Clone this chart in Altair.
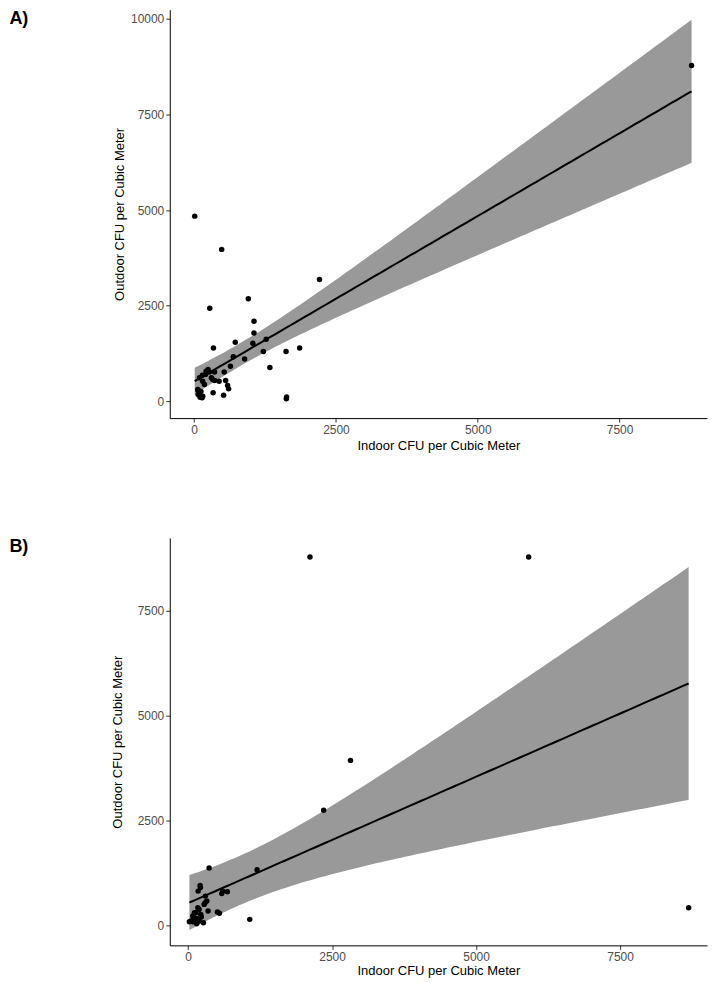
import altair as alt
import pandas as pd
import numpy as np

# ---------------- data ----------------
a_indoor = [10, 485, 2210, 955, 275, 1055, 1055, 1270, 725, 1035, 1860, 340, 1620, 1220, 690,
            890, 640, 1335, 530, 360, 245, 145, 304, 362, 555, 590, 608, 70, 70, 140,
            334, 520, 1630, 1625, 8770, 211, 93, 327, 181, 63, 151, 105, 200, 150, 270, 440, 120]
a_outdoor = [4840, 3970, 3180, 2680, 2430, 2090, 1780, 1620, 1540, 1515, 1390, 1390, 1300, 1300, 1160,
             1105, 915, 880, 760, 760, 830, 680, 610, 541, 541, 410, 321, 287, 175, 87,
             217, 157, 110, 60, 8780, 784, 609, 567, 436, 305, 130, 104, 700, 520, 760, 522, 250]

b_indoor = [2117, 5913, 8690, 2820, 2354, 1198, 366, 1071, 210, 175, 215, 302, 326, 279, 603,
            683, 586, 348, 510, 545, 192, 135, 221, 106, 49, 24, 83, 192, 267, 163,
            140, 170, 296, 111, 83, 230, 150]
b_outdoor = [8777, 8777, 421, 3930, 2743, 1325, 1365, 143, 951, 816, 900, 697, 578, 500, 816,
             801, 761, 340, 316, 290, 380, 302, 262, 183, 102, 88, 88, 102, 64, 159,
             120, 421, 540, 302, 221, 200, 40]

x_ticks = [0, 2500, 5000, 7500]
a_y_ticks = [0, 2500, 5000, 7500, 10000]
b_y_ticks = [0, 2500, 5000, 7500]
panel_labels = ["A)", "B)"]
x_title = "Indoor CFU per Cubic Meter"
y_title = "Outdoor CFU per Cubic Meter"


def t975(df):
    z = 1.959964
    return (z + (z**3 + z) / (4 * df) + (5 * z**5 + 16 * z**3 + 3 * z) / (96 * df**2)
            + (3 * z**7 + 19 * z**5 + 17 * z**3 - 15 * z) / (384 * df**3))


def lm_band(xs, ys, n=100):
    x = np.asarray(xs, float)
    y = np.asarray(ys, float)
    m = len(x)
    b1, b0 = np.polyfit(x, y, 1)
    resid = y - (b0 + b1 * x)
    s = np.sqrt((resid ** 2).sum() / (m - 2))
    sxx = ((x - x.mean()) ** 2).sum()
    grid = np.linspace(x.min(), x.max(), n)
    fit = b0 + b1 * grid
    se = s * np.sqrt(1.0 / m + (grid - x.mean()) ** 2 / sxx)
    t = t975(m - 2)
    return pd.DataFrame({"x": grid, "fit": fit, "lo": fit - t * se, "hi": fit + t * se})


def panel(xs, ys, label, xdom, ydom, yticks, w, h, x_tpad, y_tpad):
    pts = pd.DataFrame({"x": xs, "y": ys})
    band = lm_band(xs, ys)
    xsc = alt.Scale(domain=xdom, nice=False, zero=False)
    ysc = alt.Scale(domain=ydom, nice=False, zero=False)
    xax = alt.Axis(values=x_ticks, title=x_title, format="d", titlePadding=x_tpad)
    yax = alt.Axis(values=yticks, title=y_title, format="d", titlePadding=y_tpad)
    area = alt.Chart(band).mark_area(color="#999999", opacity=1).encode(
        x=alt.X("x:Q", scale=xsc, axis=xax),
        y=alt.Y("lo:Q", scale=ysc, axis=yax),
        y2="hi:Q",
    )
    line = alt.Chart(band).mark_line(color="black", strokeWidth=2).encode(
        x="x:Q", y="fit:Q"
    )
    points = alt.Chart(pts).mark_circle(color="black", size=30, opacity=1).encode(
        x="x:Q", y="y:Q"
    )
    lab = alt.Chart(pd.DataFrame({"t": [label]})).mark_text(
        font="Liberation Sans", fontSize=18, fontWeight="bold", align="left",
        baseline="top", color="black"
    ).encode(text="t:N", x=alt.value(-160.6), y=alt.value(0))
    return alt.layer(area, line, points, lab).properties(width=w, height=h)


W = 538
top = panel(a_indoor, a_outdoor, panel_labels[0], [-430, 9042], [-444, 10241],
            a_y_ticks, W, 409, 4, 4)
bottom = panel(b_indoor, b_outdoor, panel_labels[1], [-317, 9009], [-476, 9229],
               b_y_ticks, W, 408, 2, 13)

chart = alt.vconcat(top, bottom, spacing=84).properties(padding=0).configure_view(
    stroke="transparent"
).configure_axis(
    grid=False,
    domainColor="black",
    domainWidth=1,
    tickColor="#333333",
    tickSize=4,
    tickWidth=1,
    labelFont="Liberation Sans",
    labelFontSize=12,
    labelColor="#4d4d4d",
    labelPadding=2,
    labelFlush=False,
    titleFont="Liberation Sans",
    titleFontSize=13,
    titleFontWeight="normal",
    titleColor="black",
)

chart.save("out.html", embed_options={"renderer": "svg", "actions": False})
